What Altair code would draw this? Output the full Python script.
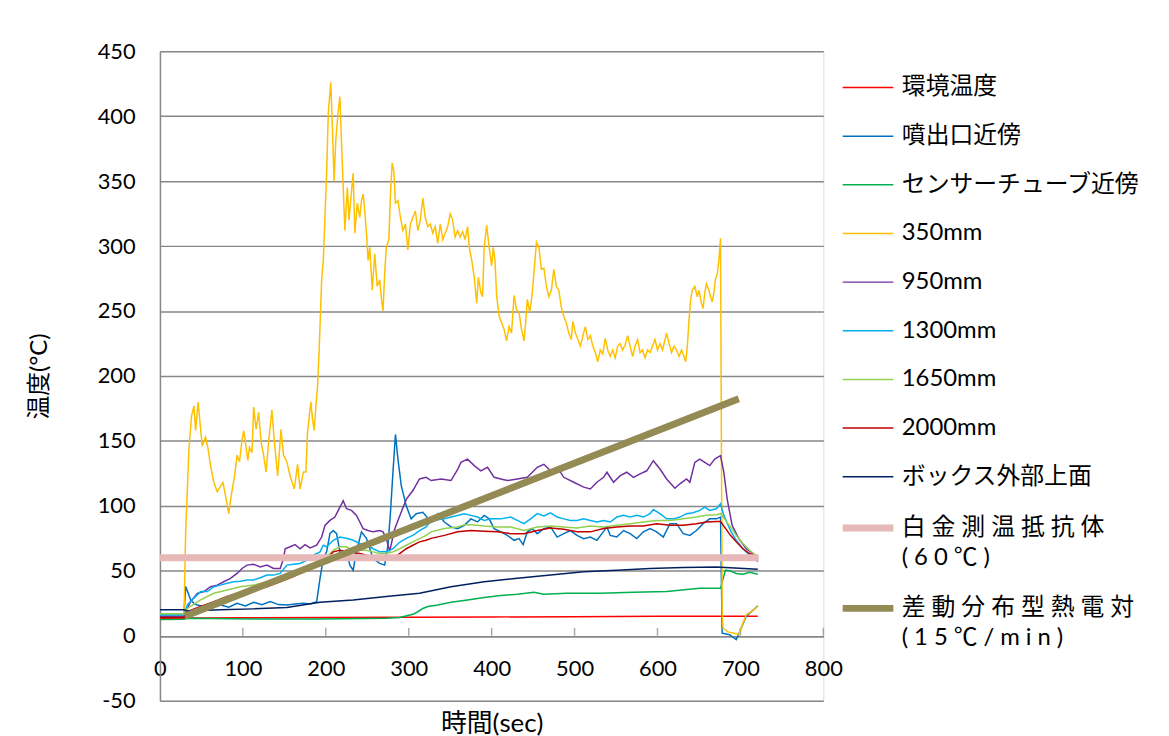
import altair as alt
import pandas as pd

FONT = "Lato, 'Noto Sans CJK JP', sans-serif"
GRID = "#878787"

PT_NAME = "白\u2005金\u2005測\u2005温\u2005抵\u2005抗\u2005体|(\u20056\u20050\u2005℃\u2005)"
DT_NAME = "差\u2005動\u2005分\u2005布\u2005型\u2005熱\u2005電\u2005対|(\u20051\u20055\u2005℃\u2005/\u2005m\u2005i\u2005n\u2005)"

SERIES = ["環境温度", "噴出口近傍", "センサーチューブ近傍", "350mm", "950mm",
          "1300mm", "1650mm", "2000mm", "ボックス外部上面", PT_NAME, DT_NAME]
COLORS = ["#FF0000", "#0070C0", "#00B050", "#FFC000", "#7030A0",
          "#00B0F0", "#92D050", "#C00000", "#002060", "#E6B9B8", "#948A54"]
WIDTHS = [1.5, 1.5, 1.5, 1.5, 1.5, 1.5, 1.5, 1.5, 1.5, 7, 7]

X_TICKS = [0, 100, 200, 300, 400, 500, 600, 700, 800]
Y_TICKS = [-50, 0, 50, 100, 150, 200, 250, 300, 350, 400, 450]

AMBIENT = [(0, 13.5), (100, 13.8), (200, 14), (300, 14.2), (400, 14.5), (500, 14.7),
           (600, 15), (721, 15)]

NOZZLE = [(0, 17), (29, 17), (31, 38), (34, 33), (37, 27.6), (41, 25), (45, 23.7), (53, 22.5),
          (63, 22), (73, 23.7), (83, 22), (93, 25), (103, 23), (113, 25.8), (123, 24), (133, 26.3),
          (143, 24), (153, 23.7), (163, 24.5), (173, 25), (181, 24.5), (189, 26.3), (193, 44),
          (197, 59.5), (201, 64.6), (205, 78.6), (209, 81), (213, 78.6), (217, 65), (221, 59.5),
          (225, 65), (229, 54.4), (233, 50.5), (237, 65), (243, 80), (249, 75), (257, 59.5),
          (265, 55.7), (271, 54.4), (275, 69.7), (278, 95), (281, 126), (284, 155), (287, 136),
          (291, 115.6), (297, 100), (303, 90), (309, 94), (317, 95), (327, 87.6), (335, 94),
          (343, 87.6), (351, 83.8), (359, 82.5), (367, 85), (375, 90), (383, 87.6), (391, 92.7),
          (397, 90), (403, 82.5), (411, 80), (419, 77.3), (427, 73.5), (433, 74.8), (438, 70.2),
          (443, 80), (449, 82.5), (455, 78.6), (463, 82.5), (471, 83.8), (479, 76), (487, 78.6),
          (495, 81), (503, 77.3), (511, 74.8), (519, 76), (527, 73.5), (533, 78.6), (539, 83.8),
          (543, 77.3), (551, 76), (559, 81), (567, 78.6), (575, 74.8), (583, 80), (591, 82.5),
          (599, 80), (607, 76), (615, 86.3), (623, 86.3), (631, 78.6), (639, 77.3), (647, 81),
          (655, 86.3), (663, 90), (671, 90), (676, 91.4), (678, 2), (687, 0.8), (695, -3),
          (701, 6), (707, 15), (714, 19), (721, 23)]

SENSOR = [(0, 12.5), (29, 12.8), (33, 13.5), (113, 13), (193, 13), (273, 13.5), (289, 14),
          (305, 16.5), (311, 18.5), (317, 21), (323, 22.5), (335, 23.7), (351, 25.8), (371, 27.6),
          (391, 29.4), (411, 31), (431, 32), (451, 33.5), (463, 32), (491, 32.7), (531, 32.7),
          (571, 33.5), (611, 34), (651, 36.5), (676, 36.5), (682, 50.5), (688, 49.8), (695, 48),
          (703, 47.3), (711, 48.8), (721, 47.3)]

MM350 = [(0, 15), (29, 15), (31, 80), (35, 144), (38, 169), (41, 177), (43, 158), (46, 180),
         (51, 146), (55, 153), (58, 144), (61, 131), (65, 118), (69, 111), (73, 115), (76, 118),
         (79, 108), (83, 94), (86, 108), (90, 123), (93, 139), (96, 134), (99, 151), (101, 158),
         (103, 149), (106, 135), (108, 145), (111, 141), (113, 176), (116, 159), (119, 172),
         (122, 149), (125, 139), (128, 126), (131, 149), (135, 174), (138, 149), (142, 123),
         (146, 159), (149, 139), (153, 134), (157, 123), (162, 113), (166, 132), (169, 113),
         (173, 126), (176, 126), (178, 157), (182, 180), (184, 167), (186, 158), (188, 176),
         (190, 192), (192, 220), (193, 238), (195, 274), (197, 289), (199, 322), (201, 356),
         (203, 402), (206, 426), (208, 391), (210, 350), (212, 381), (215, 404), (217, 415),
         (219, 379), (221, 345), (223, 312), (226, 345), (228, 320), (230, 335), (233, 356),
         (235, 310), (238, 333), (241, 322), (243, 335), (245, 340), (247, 327), (249, 310),
         (251, 289), (253, 299), (256, 266), (259, 294), (262, 269), (265, 274), (267, 260),
         (269, 250), (271, 279), (273, 299), (276, 305), (278, 340), (280, 364), (282, 358),
         (284, 333), (287, 335), (290, 322), (293, 312), (296, 317), (299, 297), (302, 317),
         (305, 322), (308, 327), (311, 312), (314, 320), (317, 337), (320, 322), (323, 315),
         (326, 317), (329, 310), (332, 315), (335, 302), (338, 317), (341, 305), (344, 310),
         (347, 315), (350, 325), (353, 320), (356, 307), (359, 312), (362, 307), (365, 311),
         (368, 305), (371, 315), (373, 299), (376, 289), (379, 276), (382, 256), (384, 276),
         (387, 264), (389, 261), (391, 299), (394, 316), (397, 299), (400, 285), (402, 299),
         (404, 289), (406, 262), (409, 246), (412, 241), (415, 236), (418, 227), (421, 238),
         (424, 233), (427, 262), (430, 251), (433, 249), (436, 236), (439, 227), (441, 241),
         (443, 259), (446, 249), (449, 264), (452, 287), (454, 303), (457, 299), (460, 282),
         (463, 283), (466, 269), (469, 261), (472, 266), (475, 282), (478, 269), (481, 266),
         (484, 253), (487, 246), (490, 241), (493, 233), (496, 228), (498, 242), (501, 233),
         (504, 228), (507, 223), (510, 231), (513, 238), (516, 228), (519, 231), (522, 223),
         (525, 218), (528, 211), (531, 220), (534, 217), (537, 229), (540, 220), (543, 215),
         (546, 220), (549, 214), (552, 223), (555, 225), (558, 220), (561, 224), (564, 231),
         (567, 223), (570, 215), (573, 223), (576, 228), (579, 218), (582, 220), (585, 214),
         (588, 220), (591, 218), (594, 223), (597, 228), (600, 220), (603, 225), (606, 220),
         (609, 228), (611, 233), (614, 225), (617, 218), (620, 223), (623, 220), (626, 215),
         (629, 220), (632, 215), (634, 211), (636, 223), (638, 243), (640, 259), (642, 266),
         (645, 269), (648, 261), (650, 266), (653, 256), (655, 252), (657, 264), (659, 271),
         (662, 266), (664, 261), (666, 257), (668, 264), (670, 275), (672, 278), (674, 289),
         (676, 306), (677, 160), (678, 20), (679, 6), (685, 3), (692, 2), (698, 1), (702, 8),
         (707, 16), (714, 19), (721, 22.7)]

MM950 = [(0, 15), (29, 15), (33, 21), (37, 26.3), (45, 32.7), (53, 34), (61, 37.8), (69, 39),
         (77, 41.6), (85, 44.2), (93, 48), (99, 51.8), (105, 54.4), (113, 55), (121, 53),
         (129, 54.4), (137, 51.8), (145, 51.8), (149, 59.5), (151, 67), (157, 68.5), (163, 70.2),
         (169, 67), (175, 70.2), (181, 67.7), (189, 69.7), (195, 76), (199, 85), (205, 88.8),
         (211, 91.4), (215, 96.5), (221, 104), (225, 97.8), (231, 96.5), (237, 92.7), (241, 87.6),
         (245, 82.5), (251, 81), (257, 80), (265, 81), (269, 80), (273, 74.8), (277, 65),
         (283, 82), (289, 92), (297, 105), (305, 111.8), (313, 120.7), (321, 122), (327, 119.5),
         (339, 120.7), (351, 119.5), (359, 128), (363, 133.5), (371, 136), (379, 131), (387, 127),
         (395, 129.7), (403, 122), (411, 120.7), (419, 119.5), (431, 120.7), (443, 122),
         (455, 129.7), (463, 132), (471, 127), (479, 129.7), (487, 122), (499, 118.2),
         (511, 114.4), (519, 113), (527, 118.2), (535, 122), (539, 125.9), (547, 118.2),
         (555, 123.3), (563, 125.9), (571, 122), (579, 124.6), (587, 127), (595, 134.8),
         (603, 128.4), (611, 120.7), (621, 113.6), (627, 117), (635, 120.7), (639, 118.2),
         (645, 133.5), (651, 136), (657, 133.5), (663, 131), (669, 136), (676, 138.6),
         (680, 125.9), (684, 105.4), (690, 85), (698, 74.8), (707, 67), (721, 60.8)]

MM1300 = [(0, 16), (29, 16), (33, 23.7), (41, 29), (49, 34), (57, 34), (65, 37.8), (73, 39),
          (81, 40.4), (89, 41.6), (97, 42), (105, 43), (113, 43), (121, 44.7), (129, 46.7),
          (137, 46.7), (145, 48), (153, 54.4), (161, 55), (169, 55.7), (177, 58), (185, 62),
          (193, 64.6), (197, 69.7), (201, 68.5), (209, 73.5), (217, 76), (225, 75), (233, 73.5),
          (241, 71), (249, 70.2), (257, 67), (265, 64.6), (273, 64.6), (281, 67), (289, 72),
          (297, 75), (305, 77.3), (313, 81), (321, 83.8), (327, 88.8), (343, 90), (351, 91.4),
          (367, 94), (375, 92.7), (383, 91.4), (391, 88.8), (399, 90), (411, 90), (423, 91.4),
          (431, 88.8), (439, 86.3), (447, 90), (455, 94), (463, 92.2), (471, 94.7), (479, 91.4),
          (487, 90), (495, 88.8), (503, 88.8), (511, 90), (519, 88.8), (527, 87.6), (535, 88.8),
          (543, 87.6), (551, 91.4), (559, 92.7), (567, 91.4), (575, 92.7), (583, 91.4), (591, 94),
          (595, 97.2), (603, 94), (611, 90), (619, 90), (627, 91.4), (635, 94), (643, 94.7),
          (651, 96.5), (657, 99), (663, 96.5), (671, 97.8), (676, 101.6), (680, 92.7), (688, 81),
          (695, 73.5), (703, 67), (711, 62), (721, 57)]

MM1650 = [(0, 17), (29, 17), (33, 21), (49, 27.6), (65, 32.7), (81, 35.2), (97, 37.8), (113, 39),
          (129, 41.6), (145, 44.7), (161, 48), (177, 51.8), (193, 55.7), (201, 60.8), (209, 65.8),
          (217, 68.5), (225, 68.5), (233, 65.8), (241, 65.8), (249, 65.8), (257, 64.6),
          (265, 63.3), (273, 63.3), (281, 64.6), (289, 67), (297, 69.7), (305, 72.3), (313, 74.8),
          (321, 77.3), (327, 80), (343, 82.5), (359, 83.8), (367, 85.5), (375, 85.5), (391, 84.5),
          (407, 83.8), (423, 83.8), (439, 81), (455, 83.8), (471, 84.5), (487, 83.8), (503, 83),
          (519, 84.5), (535, 83.8), (551, 85), (567, 86.3), (583, 87.6), (599, 88.8), (615, 88.8),
          (631, 90), (647, 91.4), (659, 92.7), (671, 93.2), (676, 94), (688, 83.8), (695, 77.3),
          (703, 71), (711, 65.8), (721, 60.8)]

MM2000 = [(0, 14), (29, 14), (33, 18.7), (49, 22.5), (65, 26.3), (81, 30.2), (97, 33.5),
          (113, 36.5), (129, 37.8), (145, 41.6), (161, 45.5), (177, 50.5), (193, 54.4),
          (201, 59.5), (209, 64.6), (217, 65.8), (225, 65), (233, 64), (241, 63.3), (249, 62),
          (257, 60), (265, 59.5), (273, 58.2), (281, 59.5), (289, 63.3), (297, 67), (305, 69.7),
          (313, 72.3), (321, 73.5), (327, 75), (343, 77.3), (359, 80), (375, 81), (391, 80.4),
          (407, 80), (423, 78.6), (439, 78.6), (455, 81), (471, 83), (487, 82), (503, 80),
          (519, 80), (535, 82.5), (551, 83.8), (567, 84.5), (583, 84.5), (599, 86.3), (615, 85),
          (631, 85), (647, 86.3), (659, 87.6), (671, 88), (676, 88), (688, 77.3), (695, 72.3),
          (703, 67), (711, 63.3), (721, 60.8)]

BOX_TOP = [(0, 20), (29, 20), (33, 19), (73, 20), (113, 20.7), (153, 21.7), (193, 25.8),
           (233, 27.6), (273, 30.2), (313, 32.7), (351, 37.8), (391, 41.6), (431, 44.2),
           (471, 46.7), (511, 49.3), (551, 50.5), (591, 51.8), (631, 52.6), (671, 53), (721, 51.3)]

PLATINUM = [(0, 60), (722, 60)]
DIFF_TC = [(30, 15), (698, 182.5)]

POINTS = [AMBIENT, NOZZLE, SENSOR, MM350, MM950, MM1300, MM1650, MM2000, BOX_TOP,
          PLATINUM, DIFF_TC]

thin_rows, thick_rows = [], []
for name, pts in zip(SERIES, POINTS):
    target = thick_rows if name in (PT_NAME, DT_NAME) else thin_rows
    for t, v in pts:
        target.append({"series": name, "t": t, "v": v})
thin_df = pd.DataFrame(thin_rows)
thick_df = pd.DataFrame(thick_rows)
tick_df = pd.DataFrame({"t": X_TICKS[1:], "v": [0] * (len(X_TICKS) - 1)})

x_axis = alt.Axis(values=X_TICKS, grid=False, ticks=False, domainColor=GRID, domainWidth=1.5,
                  offset=-65, labelPadding=23, labelFlush=False, labelFont=FONT,
                  labelFontSize=22, labelColor="black", title="時間(sec)", titleFont=FONT,
                  titleFontSize=26, titleFontWeight="normal", titleColor="black",
                  titlePadding=31)
y_axis = alt.Axis(values=Y_TICKS, grid=True, gridColor=GRID, gridWidth=1.5, ticks=False,
                  domainColor=GRID, domainWidth=1.5, labelPadding=25, labelFont=FONT,
                  labelFontSize=22, labelColor="black", labelExpr="datum.value + ''",
                  title="温度(°C)", titleFont=FONT, titleFontSize=24,
                  titleFontWeight="normal", titleColor="black", titlePadding=46)

X = alt.X("t:Q", scale=alt.Scale(domain=[0, 800], nice=False), axis=x_axis)
Y = alt.Y("v:Q", scale=alt.Scale(domain=[-50, 450], nice=False), axis=y_axis)

legend = alt.Legend(title=None, orient="none", legendX=684, legendY=10, symbolType="stroke",
                    symbolSize=2601, labelFont=FONT, labelFontSize=24, labelLimit=400,
                    labelOffset=5, rowPadding=10, labelColor="black", padding=0,
                    labelExpr="split(datum.label, '|')")
color = alt.Color("series:O", scale=alt.Scale(type="ordinal", domain=SERIES, range=COLORS),
                  legend=legend)
width_enc = alt.StrokeWidth("series:O",
                            scale=alt.Scale(type="ordinal", domain=SERIES, range=WIDTHS),
                            legend=legend)

thin = alt.Chart(thin_df).mark_line().encode(x=X, y=Y, color=color, strokeWidth=width_enc)
thick = alt.Chart(thick_df).mark_line().encode(x=X, y=Y, color=color, strokeWidth=width_enc)
ticks = alt.Chart(tick_df).mark_tick(orient="vertical", size=8, thickness=1.5, color=GRID,
                                     yOffset=-4).encode(x=X, y=Y)

chart = alt.layer(ticks, thin, thick).properties(
    width=668, height=654,
    autosize=alt.AutoSizeParams(type="none"),
    padding={"left": 153, "top": 41, "right": 340, "bottom": 33},
).configure_view(strokeWidth=0).configure(style={"guide-label": {"lineHeight": 30}})

chart.save("out.html", embed_options={"renderer": "svg", "actions": False})
